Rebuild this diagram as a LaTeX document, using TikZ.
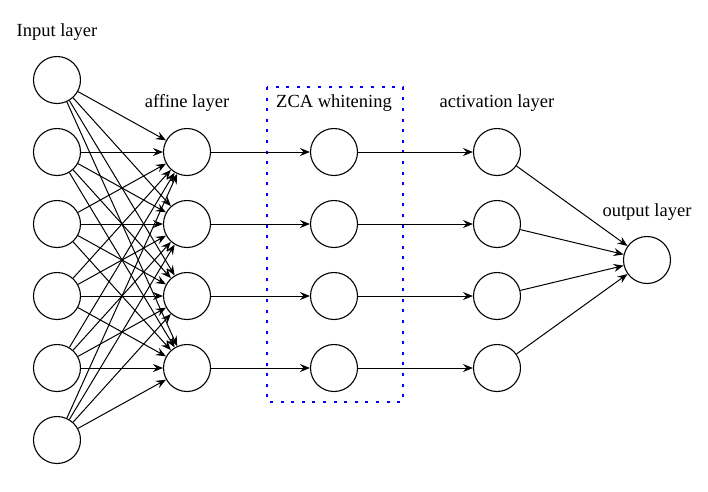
\documentclass[tikz,border=0pt]{standalone}
\usepackage{fontspec}
\setmainfont{Liberation Serif}
\usetikzlibrary{arrows.meta}
\begin{document}
\begin{tikzpicture}[x=1pt,y=-1pt,
  neuron/.style={circle,draw,line width=1.1pt,minimum size=47pt,inner sep=0pt},
  lbl/.style={font=\fontsize{18.5}{22}\selectfont},
  conn/.style={line width=1pt,-{Stealth[length=10pt,width=8pt,inset=3.5pt]}}]
\useasboundingbox (0,0) rectangle (708,491);
\foreach \i/\y in {1/80,2/152,3/224,4/296,5/368,6/440}
  \node[neuron] (in\i) at (57,\y) {};
\foreach \i/\y in {1/152,2/224,3/296,4/368}{
  \node[neuron] (af\i) at (187,\y) {};
  \node[neuron] (z\i) at (334,\y) {};
  \node[neuron] (ac\i) at (497,\y) {};
}
\node[neuron] (out) at (647,260) {};
\node[lbl] (l1) at (57,32) {Input layer};
\node[lbl] (l2) at (187,103) {affine layer};
\node[lbl] (l3) at (334,103) {ZCA whitening};
\node[lbl] (l4) at (497,103) {activation layer};
\node[lbl] (l5) at (647,212) {output layer};
\coordinate (bx1) at (267,87);
\coordinate (bx2) at (403,402);
\draw[blue,line width=1.3pt,dash pattern=on 3pt off 7.6pt] (bx1) rectangle (bx2);
\foreach \i in {1,...,6}
  \foreach \j in {1,...,4}
    \draw[conn] (in\i) -- (af\j);
\foreach \j in {1,...,4}{
  \draw[conn] (af\j) -- (z\j);
  \draw[conn] (z\j) -- (ac\j);
  \draw[conn] (ac\j) -- (out);
}
\end{tikzpicture}
\end{document}
